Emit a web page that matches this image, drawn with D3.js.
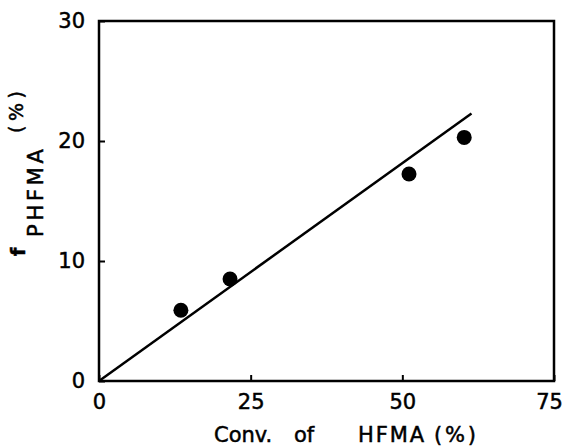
<!DOCTYPE html>
<html>
<head>
<meta charset="utf-8">
<script src="https://cdn.jsdelivr.net/npm/d3@7"></script>
<style>
	body { margin: 0; background: #fff; }
	svg text { font-family: "DejaVu Sans", Arial, sans-serif; fill: #000; }
</style>
</head>
<body>
<div id="chart"></div>
<script>
// measured conversion (%) vs f_PHFMA (%)
var convHFMA = [13.5, 21.6, 51.1, 60.2]
var fPHFMA = [5.9, 8.5, 17.25, 20.3]
// fitted straight line, from origin
var fitX = [0, 61.4]
var fitY = [0, 22.3]
var xTicks = [0, 25, 50, 75]
var yTicks = [0, 10, 20, 30]

var points = convHFMA.map((c, i) => ({ x: c, y: fPHFMA[i] }))
var fit = fitX.map((c, i) => ({ x: c, y: fitY[i] }))

var margin = { left: 99, right: 11, top: 21, bottom: 67 };
const svgWidth = 565
const svgHeight = 448
var width = svgWidth - margin.left - margin.right,
	height = svgHeight - margin.top - margin.bottom;

let svg = d3.select("#chart")
	.append("svg")
	.attr("width", svgWidth)
	.attr("height", svgHeight)

let g = svg.append("g")
	.attr("transform", "translate(" + margin.left + ", " + margin.top + ")")

var x = d3.scaleLinear()
	.domain([0, 75])
	.range([0, width])
var y = d3.scaleLinear()
	.domain([0, 30])
	.range([height, 0])

// frame
g.append("rect")
	.attr("width", width)
	.attr("height", height)
	.attr("fill", "none")
	.attr("stroke", "#000")
	.attr("stroke-width", 2.5)

// axes (ticks point inwards)
var xAxisCall = d3.axisBottom(x).tickValues(xTicks).tickSize(-6).tickPadding(13)
var xAxis = g.append("g")
	.attr("class", "x axis")
	.attr("transform", "translate(0, " + height + ")")
	.call(xAxisCall)
var yAxisCall = d3.axisLeft(y).tickValues(yTicks).tickSize(-6).tickPadding(14)
var yAxis = g.append("g")
	.attr("class", "y axis")
	.call(yAxisCall)

g.selectAll(".axis .domain").remove()
g.selectAll(".axis line").attr("stroke", "#000").attr("stroke-width", 2)
g.selectAll(".axis text")
	.attr("font-size", "21px")
	.attr("fill", "#000")
	.attr("stroke", "#000")
	.attr("stroke-width", 0.5)
	.style("font-family", "'DejaVu Sans', Arial, sans-serif")
xAxis.selectAll("text").filter(d => d === 75).attr("dx", -5)

// fitted line
g.append("path")
	.datum(fit)
	.attr("fill", "none")
	.attr("stroke", "#000")
	.attr("stroke-width", 2.5)
	.attr("d", d3.line()
		.x(d => x(d.x))
		.y(d => y(d.y))
	)

// data points
g.selectAll("circle")
	.data(points)
	.enter()
	.append("circle")
	.attr("cx", d => x(d.x))
	.attr("cy", d => y(d.y))
	.attr("r", 7.5)
	.attr("fill", "#000")

// x label, word by word
var xl = svg.append("g")
	.attr("font-size", "21px")
	.attr("stroke", "#000")
	.attr("stroke-width", 0.5)
var xWords = [["Conv.", 214, null], ["of", 294, null], ["HFMA", 358, 66], ["(%)", 434, 42]]
xWords.forEach(w => {
	var t = xl.append("text")
		.attr("x", w[1])
		.attr("y", 442)
		.text(w[0])
	if (w[2]) t.attr("textLength", w[2]).attr("lengthAdjust", "spacing")
})

// y label: f with subscript PHFMA, then (%)
var yl = svg.append("g")
	.attr("transform", "rotate(-90)")
	.attr("stroke", "#000")
	.attr("stroke-width", 0.5)
yl.append("text")
	.attr("x", -256)
	.attr("y", 25)
	.attr("font-size", "19px")
	.attr("font-weight", "bold")
	.text("f")
yl.append("text")
	.attr("x", -237)
	.attr("y", 43)
	.attr("font-size", "21px")
	.attr("textLength", 88)
	.attr("lengthAdjust", "spacing")
	.text("PHFMA")
yl.append("text")
	.attr("x", -133)
	.attr("y", 23)
	.attr("font-size", "19px")
	.attr("textLength", 42)
	.attr("lengthAdjust", "spacing")
	.text("(%)")
</script>
</body>
</html>
